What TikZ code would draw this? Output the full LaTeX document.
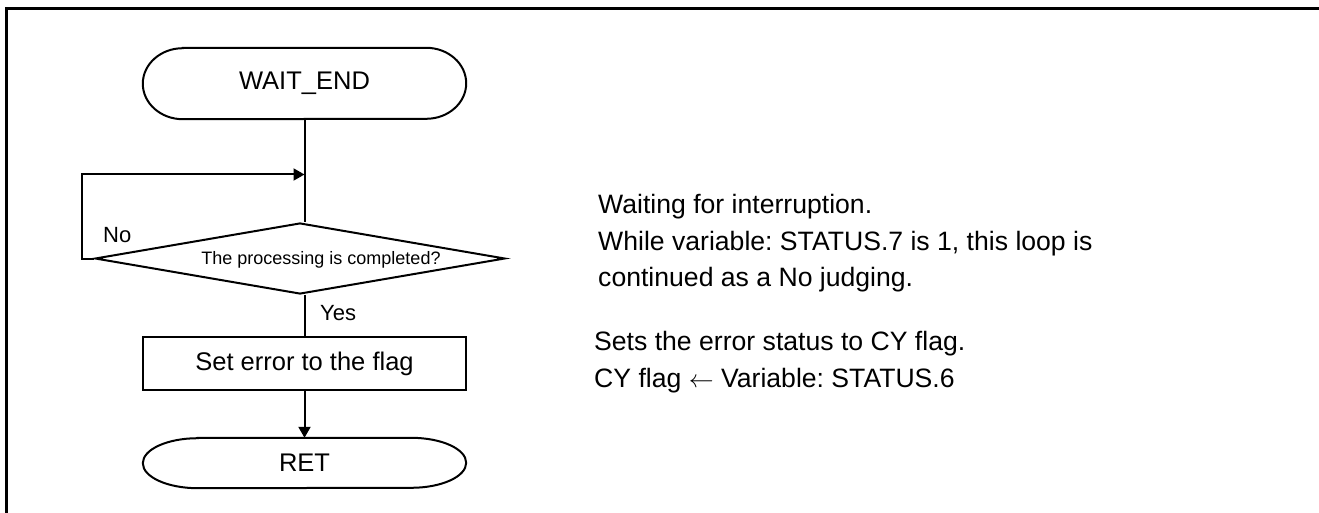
\documentclass[tikz,border=0pt]{standalone}
\usepackage{fontspec}
\setmainfont{Liberation Sans}
\usetikzlibrary{shapes.geometric,arrows.meta,calc}
\frenchspacing
\tikzset{
  shapeline/.style={line width=2pt},
  flowarrow/.style={line width=2pt,-{Triangle[length=11pt,width=12pt]}},
  boxnode/.style={rectangle,minimum width=323pt,minimum height=#1,inner sep=0pt,font=\fontsize{25.5}{30}\selectfont},
  procbox/.style={rectangle,draw,line width=2pt,minimum width=323pt,minimum height=53pt,inner sep=0pt,font=\fontsize{25.5}{30}\selectfont},
  decision/.style={diamond,draw,line width=2pt,minimum width=410pt,minimum height=71pt,aspect=5.77,inner sep=0pt},
  dectext/.style={font=\fontsize{18}{22}\selectfont,inner sep=0pt},
  lbl/.style={font=\fontsize{22}{26}\selectfont,inner sep=0pt,anchor=base west},
  note/.style={font=\fontsize{26.6}{31}\selectfont,inner sep=0pt,anchor=base west},
}
\newcommand{\drawterminal}[3]{% name, x radius, y radius
  \draw[shapeline] ([xshift=#2]#1.north west) -- ([xshift=-#2]#1.north east)
    arc[start angle=90,end angle=-90,x radius=#2,y radius=#3]
    -- ([xshift=#2]#1.south west)
    arc[start angle=270,end angle=90,x radius=#2,y radius=#3] -- cycle;}
\begin{document}
\begin{tikzpicture}[x=1pt,y=-1pt]
  \useasboundingbox (0,0) rectangle (1319,513);
  % frame
  \draw[line width=3pt] (6,513) -- (6,8.5) -- (1319,8.5);

  % nodes
  \node[boxnode=71pt] (start) at (304.5,83.5) {WAIT\_END};
  \drawterminal{start}{40pt}{35.5pt}
  \node[decision] (dec) at (300,258.5) {};
  \node[dectext] (dect) at (321,260) {The processing is completed?};
  \node[procbox] (proc) at (304.5,363.5) {Set error to the flag};
  \node[boxnode=50pt] (ret) at (304.5,463) {RET};
  \drawterminal{ret}{55pt}{25pt}

  \coordinate (join) at (304.5,174.5);

  % connectors
  \draw[shapeline] (start.south) -- (start.south |- dec.north);
  \draw[flowarrow] (dec.west) -- ++(-12,0) |- (join);
  \draw[shapeline] (proc.north |- dec.south) -- (proc.north);
  \draw[flowarrow] (proc.south) -- (ret.north);

  % labels
  \node[lbl] (no) at (103,242) {No};
  \node[lbl] (yes) at (320,320) {Yes};

  % notes
  \node[note] (n1) at (598,213) {Waiting for interruption.};
  \node[note] (n2) at (598,250) {While variable: STATUS.7 is 1, this loop is};
  \node[note] (n3) at (598,286) {continued as a No judging.};
  \node[note] (n4) at (594,350) {Sets the error status to CY flag.};
  \node[note] (n5) at (594,387) {CY flag $\leftarrow$ Variable: STATUS.6};
\end{tikzpicture}
\end{document}
